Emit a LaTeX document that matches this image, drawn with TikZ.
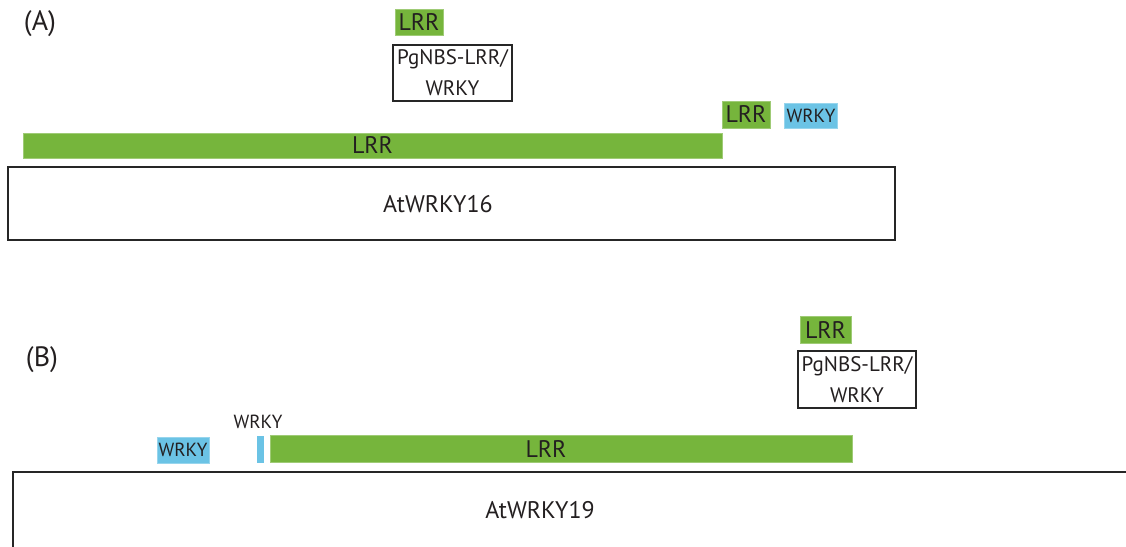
\documentclass[tikz,border=0pt]{standalone}
\usepackage{fontspec}
\setmainfont{PT Sans}
\definecolor{lrrgreen}{RGB}{118,181,60}
\definecolor{wrkyblue}{RGB}{107,195,229}
\definecolor{txt}{RGB}{35,31,32}
\begin{document}
\begin{tikzpicture}[x=1pt,y=-1pt,
  every node/.style={inner sep=0pt,outer sep=0pt,text=txt},
  lrrbox/.style={fill=lrrgreen,draw=lrrgreen!70!white,line width=0.6pt,font=\fontsize{24}{28}\selectfont},
  wrkybox/.style={fill=wrkyblue,draw=wrkyblue!70!white,line width=0.6pt,font=\fontsize{19}{22}\selectfont},
  pgbox/.style={draw=black!85,line width=2pt,align=center,font=\fontsize{21}{31}\selectfont},
  protbox/.style={draw=black!85,line width=2pt},
  biglabel/.style={font=\fontsize{24}{28}\selectfont},
  panel/.style={font=\fontsize{28}{32}\selectfont}]
\useasboundingbox (0,0) rectangle (1126,546);
\clip (0,0) rectangle (1126,546);
\fill[white] (0,0) rectangle (1126,546);
% Panel A
\node[panel] (pA) at (40,24) {(A)};
\node[lrrbox,minimum width=48pt,minimum height=26pt] (lrrA1) at (419,22) {LRR};
\node[pgbox,minimum width=119pt,minimum height=56pt] (pgA) at (452.5,73) {PgNBS-LRR/\\WRKY};
\node[lrrbox,minimum width=48pt,minimum height=27pt] (lrrA2) at (746,114.5) {LRR};
\node[wrkybox,minimum width=53pt,minimum height=25pt] (wrkyA) at (811,115.5) {WRKY};
\node[lrrbox,minimum width=699pt,minimum height=25pt] (lrrbarA) at (372.5,145.5) {LRR};
\node[protbox,minimum width=887pt,minimum height=73pt] (atA) at (451.5,203.5) {};
\node[biglabel] (atAtext) at (438,204) {AtWRKY16};
% Panel B
\node[panel] (pB) at (42,360) {(B)};
\node[lrrbox,minimum width=51pt,minimum height=27pt] (lrrB1) at (825.5,329.5) {LRR};
\node[pgbox,minimum width=118pt,minimum height=57pt] (pgB) at (857,379.5) {PgNBS-LRR/\\WRKY};
\node[font=\fontsize{19}{22}\selectfont] (wrkylbl) at (258,422) {WRKY};
\node[wrkybox,minimum width=52pt,minimum height=26pt] (wrkyB) at (183,450) {WRKY};
\node[fill=wrkyblue,minimum width=7pt,minimum height=27pt] (thinB) at (260.5,449.5) {};
\node[fill=lrrgreen,draw=lrrgreen!70!white,line width=0.6pt,minimum width=582pt,minimum height=27pt] (lrrbarB) at (561,448.5) {};
\node[biglabel] (lrrbarBtext) at (546,449) {LRR};
\node[protbox,minimum width=1200pt,minimum height=160pt,anchor=north west] (atB) at (13,472) {};
\node[biglabel] (atBtext) at (540,510) {AtWRKY19};
\end{tikzpicture}
\end{document}
